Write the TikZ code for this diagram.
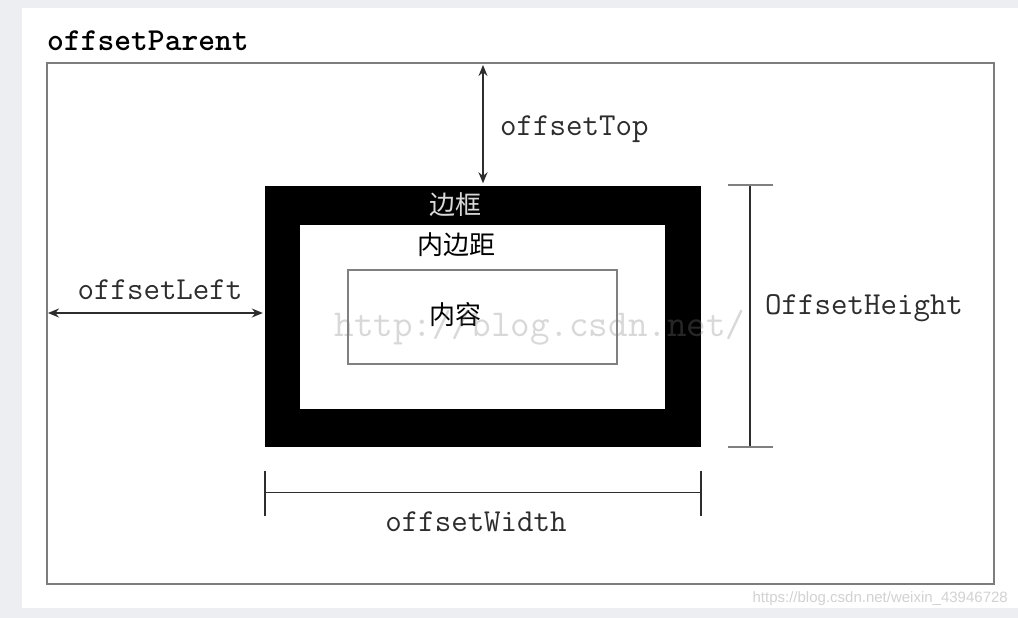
\documentclass[tikz,border=0pt]{standalone}
\usepackage{fontspec}
\newfontfamily\cjk{Noto Sans CJK SC}
\newfontfamily\marksans{Liberation Sans}
\usepackage{tikz}
\usetikzlibrary{arrows.meta}
\definecolor{pagegray}{RGB}{236,238,241}
\definecolor{edgegray}{RGB}{125,125,125}
\definecolor{inkgray}{RGB}{45,45,45}

\begin{document}
\begin{tikzpicture}[x=1pt,y=-1pt,>={Stealth[length=11pt,width=9pt]},
box/.style={draw=edgegray,line width=2pt,inner sep=0pt},
dim/.style={draw=inkgray,line width=1.5pt},
tick/.style={draw=gray,line width=2pt},
lbl/.style={font=\ttfamily\fontsize{32}{34}\selectfont,text=inkgray,inner sep=0pt},
cn/.style={font=\cjk\fontsize{26}{28}\selectfont,inner sep=0pt}]
\useasboundingbox (0,0) rectangle (1018,618);
\fill[pagegray] (0,0) rectangle (1018,618);
\fill[white] (22,8) rectangle (1018,608);

\node[box, minimum width=947pt, minimum height=521pt] (parent) at (520.5,323.5) {};
\node[fill=black, inner sep=0pt, minimum width=436pt, minimum height=261pt] (border) at (483,316) {};
\node[fill=white, inner sep=0pt, minimum width=365pt, minimum height=184pt] (padding) at (482.5,317) {};
\node[box, draw=gray, line width=1.5pt, minimum width=269pt, minimum height=94pt] (content) at (482.5,317) {};

\node[lbl, font=\ttfamily\bfseries\fontsize{32}{34}\selectfont, text=black, anchor=west] (parentlbl) at (47,41) {offsetParent};
\node[cn, text=white!85!black] (borderlbl) at (455,205) {边框};
\node[cn] (paddinglbl) at (456,245) {内边距};
\node[cn] (contentlbl) at (455,315) {内容};

\coordinate (leftend) at ([yshift=3pt]border.west);
\coordinate (htop) at ([xshift=49pt]border.north east);
\coordinate (hbot) at ([xshift=49pt]border.south east);
\coordinate (wleft) at ([yshift=-46pt]border.south west);
\coordinate (wright) at ([yshift=-46pt]border.south east);

\draw[dim,<->,shorten >=2pt,shorten <=3pt] (parent.north -| border.center) -- (border.north);
\draw[dim,<->,shorten >=2pt,shorten <=2pt] (parent.west |- leftend) -- (leftend);
\draw[dim] (htop) -- (hbot);
\draw[tick] ([xshift=-22pt]htop) -- ([xshift=23pt]htop);
\draw[tick] ([xshift=-22pt]hbot) -- ([xshift=23pt]hbot);
\draw[dim] (wleft) -- (wright);
\draw[dim] ([yshift=22pt]wleft) -- ([yshift=-23pt]wleft);
\draw[dim] ([yshift=22pt]wright) -- ([yshift=-23pt]wright);

\node[lbl, anchor=west] (toplbl) at (500,129) {offsetTop};
\node[lbl] (leftlbl) at (160,290) {offsetLeft};
\node[lbl, anchor=west] (heightlbl) at (765,308) {OffsetHeight};
\node[lbl] (widthlbl) at (476,522) {offsetWidth};

\node[font=\ttfamily\fontsize{38}{40}\selectfont, text=gray, opacity=0.3, inner sep=0pt] (mark) at (540,328) {http://blog.csdn.net/};
\node[font=\marksans\fontsize{15}{17}\selectfont, text=gray!35, inner sep=0pt, anchor=east] (urlmark) at (1008,599) {https://blog.csdn.net/weixin\_43946728};
\end{tikzpicture}
\end{document}
